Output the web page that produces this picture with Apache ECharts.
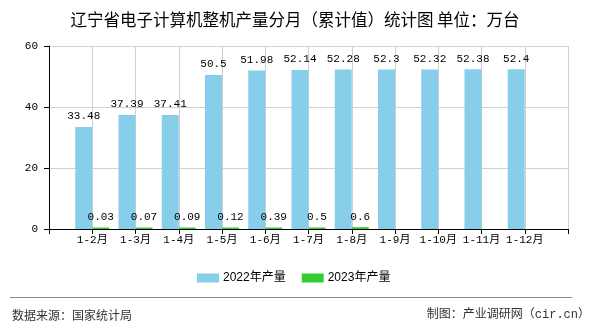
<!DOCTYPE html>
<html>
<head>
<meta charset="utf-8">
<script src="https://cdn.jsdelivr.net/npm/echarts@6/dist/echarts.min.js"></script>
<style>
  html, body { margin: 0; padding: 0; background: #fff; }
  #chart { width: 590px; height: 330px; }
</style>
</head>
<body>
<div id="chart"></div>
<script>
// Monthly cumulative output, 10k units
const months = ['1-2月', '1-3月', '1-4月', '1-5月', '1-6月', '1-7月', '1-8月', '1-9月', '1-10月', '1-11月', '1-12月'];
const output2022 = [33.48, 37.39, 37.41, 50.5, 51.98, 52.14, 52.28, 52.3, 52.32, 52.38, 52.4];
const output2023 = [0.03, 0.07, 0.09, 0.12, 0.39, 0.5, 0.6, null, null, null, null];
const seriesNames = ['2022年产量', '2023年产量'];
const yTicks = { min: 0, max: 60, interval: 20 };

// Empty slots at both ends so each month sits on a tick line
const axisCats = [''].concat(months, ['']);
const pad = arr => [null].concat(arr, [null]);

const monoFont = '"Liberation Mono", "Noto Sans CJK SC", monospace';
const cjkFont = '"Noto Sans CJK SC", sans-serif';

const chart = echarts.init(document.getElementById('chart'), null, { renderer: 'canvas' });
chart.setOption({
  animation: false,
  backgroundColor: '#ffffff',
  title: {
    text: '辽宁省电子计算机整机产量分月（累计值）统计图 单位：万台',
    left: 'center',
    top: 6,
    textStyle: { fontFamily: cjkFont, fontSize: 16.5, fontWeight: 'normal', color: '#000' }
  },
  legend: {
    data: seriesNames,
    left: 192,
    top: 267,
    itemWidth: 22,
    itemHeight: 9,
    itemGap: 16,
    icon: 'rect',
    textStyle: { fontFamily: '"Liberation Sans", "Noto Sans CJK SC", sans-serif', fontSize: 12, color: '#000', padding: [0, 0, 0, -1] }
  },
  grid: { left: 49, right: 22, top: 46, bottom: 101, containLabel: false },
  xAxis: {
    type: 'category',
    data: axisCats,
    boundaryGap: false,
    axisLine: { lineStyle: { color: '#000', width: 1 } },
    axisTick: { show: true, interval: 0, length: 5, lineStyle: { color: '#000' } },
    axisLabel: { interval: 0, margin: 6, fontFamily: monoFont, fontSize: 11, color: '#000' },
    splitLine: { show: true, interval: 0, lineStyle: { color: '#d0d0d0', width: 1 } }
  },
  yAxis: {
    type: 'value',
    min: yTicks.min,
    max: yTicks.max,
    interval: yTicks.interval,
    axisLine: { show: true, lineStyle: { color: '#000', width: 1 } },
    axisTick: { show: true, length: 5, lineStyle: { color: '#000' } },
    axisLabel: { margin: 11, fontFamily: monoFont, fontSize: 11, color: '#000' },
    splitLine: { show: true, lineStyle: { color: '#d0d0d0', width: 1 } }
  },
  series: [
    {
      name: seriesNames[0],
      type: 'bar',
      data: pad(output2022),
      barWidth: 17,
      barGap: '0%',
      itemStyle: { color: '#87ceeb' },
      label: { show: true, position: 'top', distance: 5, fontFamily: monoFont, fontSize: 11, color: '#000' }
    },
    {
      name: seriesNames[1],
      type: 'bar',
      data: pad(output2023),
      barWidth: 17,
      barGap: '0%',
      barMinHeight: 1.5,
      itemStyle: { color: '#33cc33' },
      label: { show: true, position: 'top', distance: 5, fontFamily: monoFont, fontSize: 11, color: '#000' }
    }
  ],
  graphic: [
    {
      type: 'line',
      shape: { x1: 10, y1: 297.5, x2: 572, y2: 297.5 },
      style: { stroke: '#888', lineWidth: 1 }
    },
    {
      type: 'text',
      left: 12,
      top: 309,
      style: { text: '数据来源：国家统计局', font: '12px ' + cjkFont, fill: '#333' }
    },
    {
      type: 'text',
      right: 0,
      top: 309,
      style: { text: '制图：产业调研网（cir.cn）', font: '12px ' + monoFont, fill: '#333' }
    }
  ]
});
</script>
</body>
</html>
